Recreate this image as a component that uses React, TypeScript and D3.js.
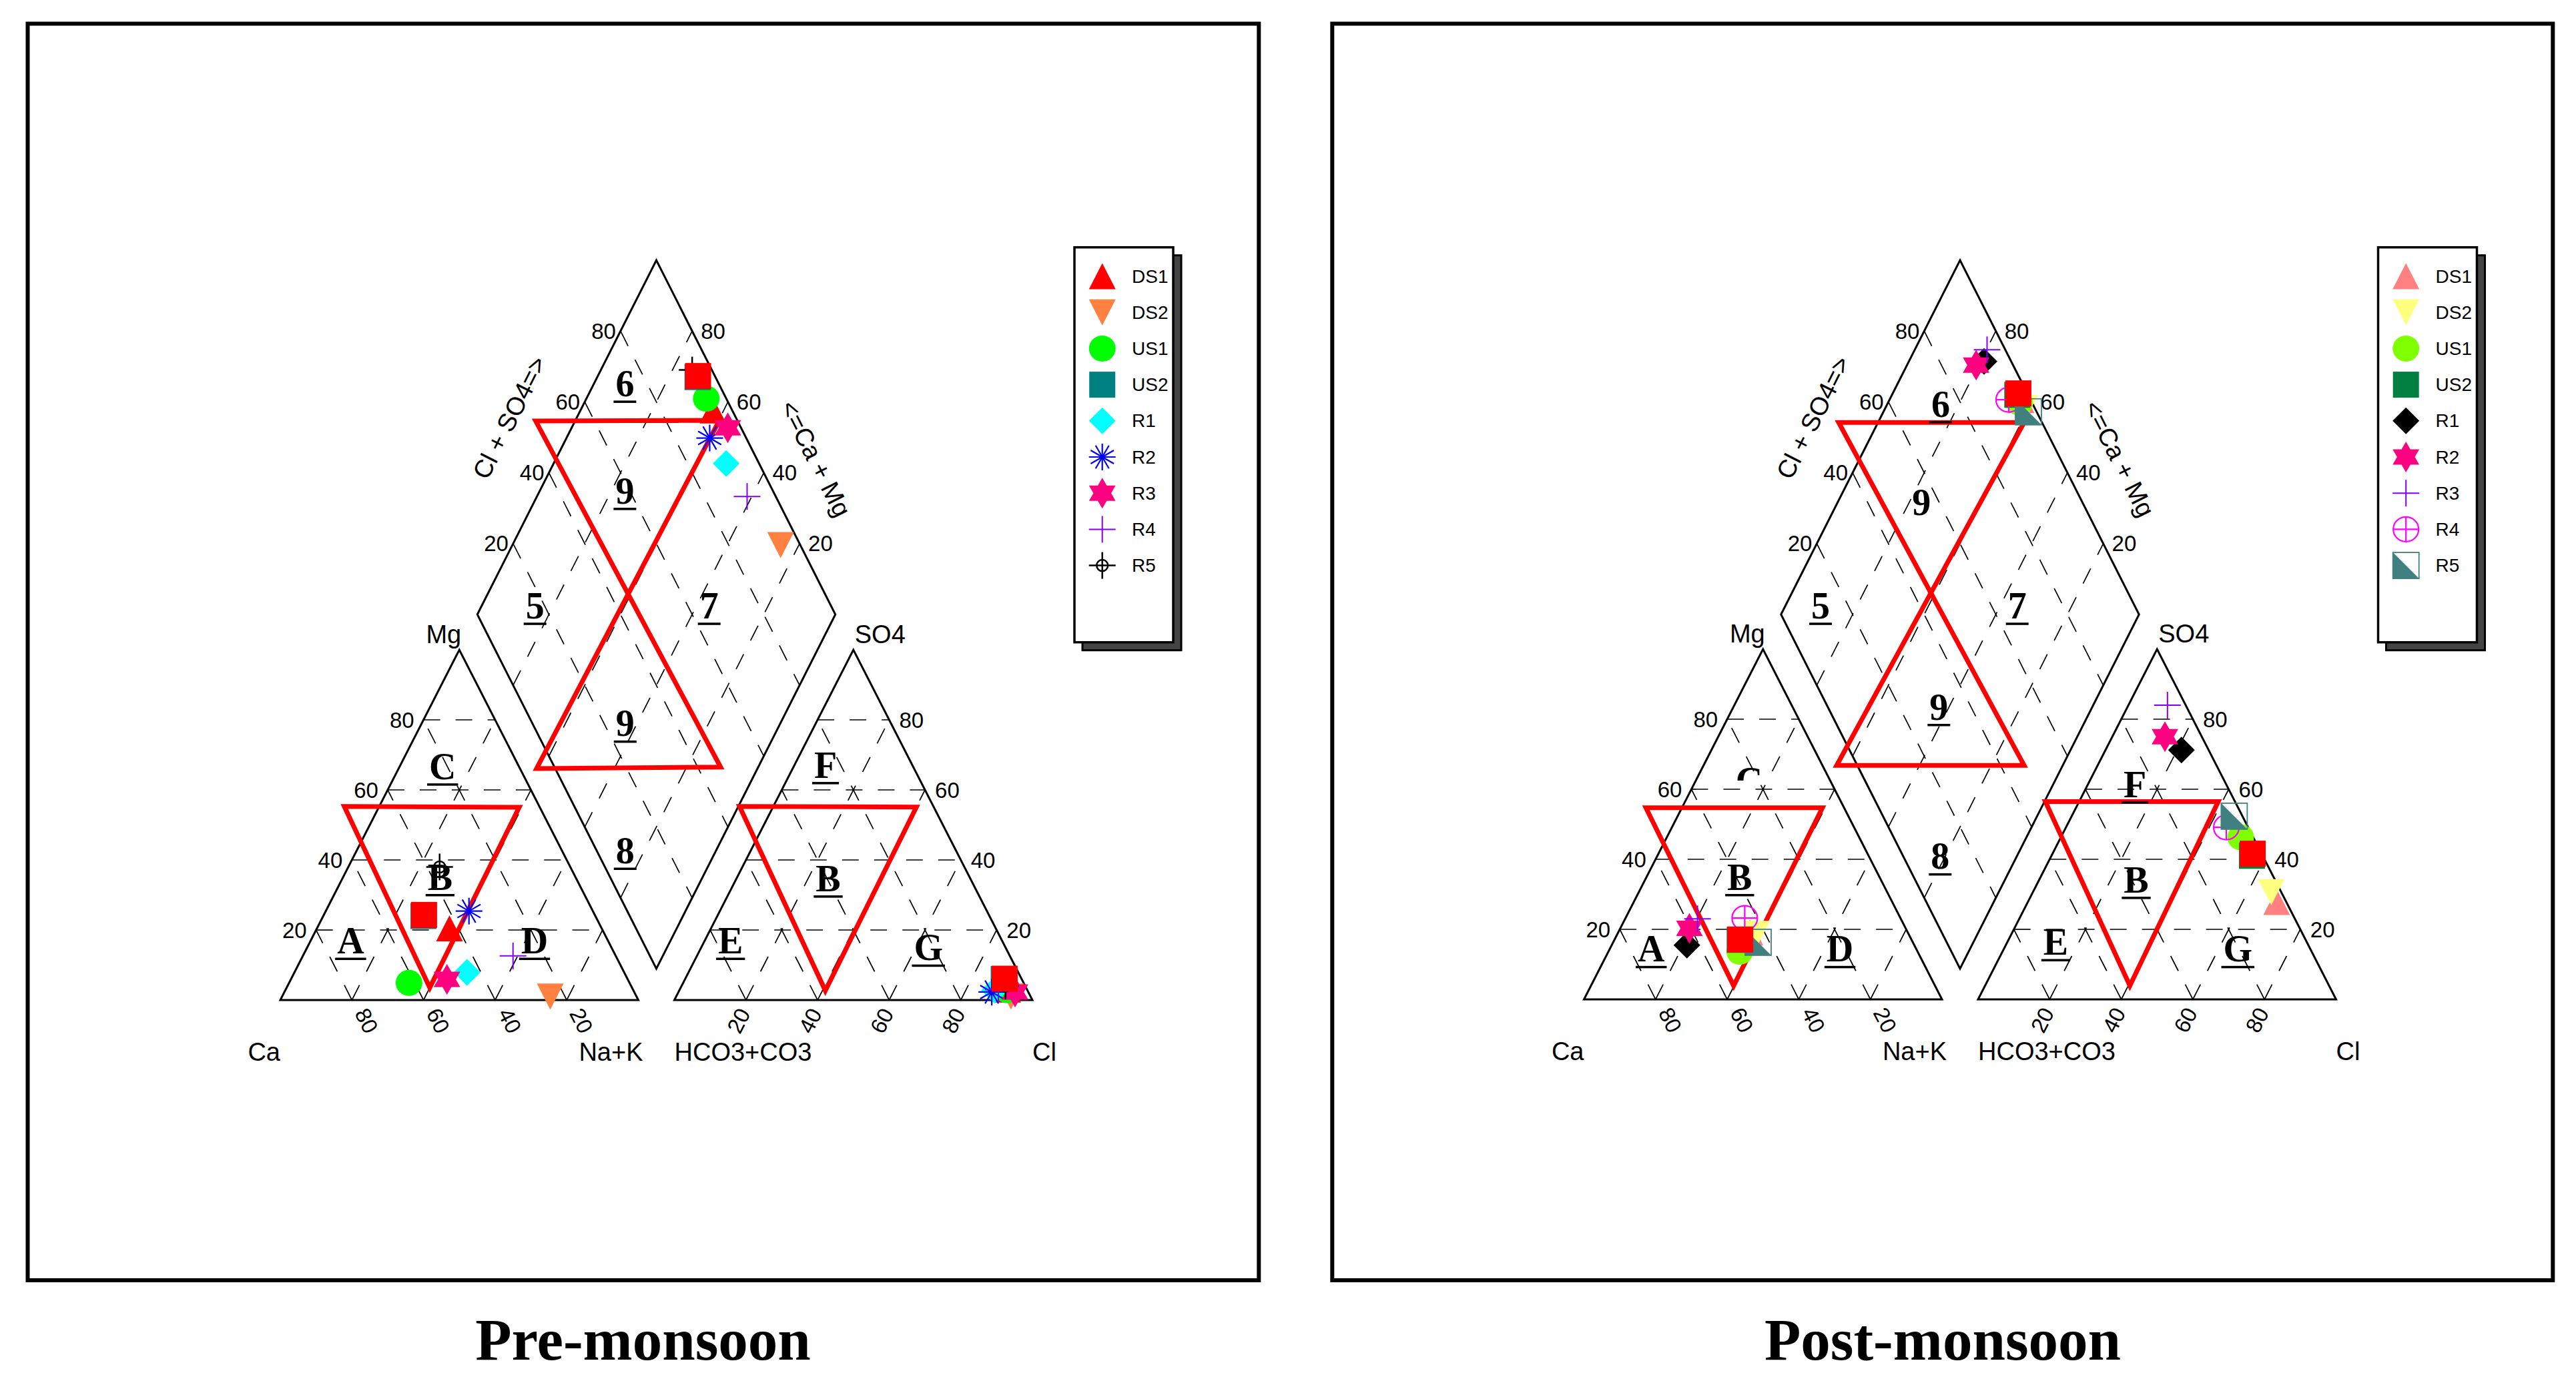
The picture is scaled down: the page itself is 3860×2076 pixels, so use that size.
import React from 'react';
import * as d3 from 'd3';

// sample names (last one is the red square that has no legend entry)
const SAMPLES = ['DS1', 'DS2', 'US1', 'US2', 'R1', 'R2', 'R3', 'R4', 'R5', ''];

// Pre-monsoon, % meq/L
const preCa = [42.5, 24.1, 61.6, 48.0, 43.9, 34.6, 50.5, 28.7, 36.5, 47.7];
const preMg = [20.5, 1.0, 4.9, 24.0, 7.9, 25.4, 5.9, 12.6, 38.0, 24.3];
const preNaK = [37.0, 74.9, 33.5, 28.0, 48.2, 40.0, 43.6, 58.7, 25.5, 28.0];
const preHCO3 = [5.4, 5.5, 5.6, 5.0, 9.2, 10.2, 3.7, 8.0, 5.5, 4.7];
const preSO4 = [3.0, 1.0, 2.8, 6.0, 2.8, 2.3, 2.3, 3.0, 4.0, 6.1];
const preCl = [91.6, 93.5, 91.6, 89.0, 88.0, 87.5, 94.0, 89.0, 90.5, 89.2];

// Post-monsoon, % meq/L
const postCa = [44.1, 42.4, 49.7, 48.0, 63.5, 60.4, 56.8, 43.5, 43.2, 47.8];
const postMg = [19.1, 18.7, 13.6, 17.0, 15.5, 20.3, 23.0, 23.2, 16.3, 17.1];
const postNaK = [36.8, 38.9, 36.7, 35.0, 21.0, 19.3, 20.2, 33.3, 40.5, 35.1];
const postHCO3 = [2.7, 2.8, 3.5, 3.0, 7.6, 10.3, 5.1, 6.1, 2.3, 2.5];
const postSO4 = [27.8, 30.6, 46.3, 41.0, 71.2, 75.0, 84.0, 49.1, 52.3, 41.6];
const postCl = [69.5, 66.6, 50.2, 56.0, 21.2, 14.7, 10.9, 44.8, 45.4, 55.9];

const TICKS = [20, 40, 60, 80];

const preShapes = ['triUp', 'triDown', 'circle', 'square', 'diamond', 'asterisk', 'star', 'plus', 'circlePlus', 'square'];
const preColors = ['#ff0000', '#ff8040', '#00ff00', '#008080', '#00ffff', '#0000ff', '#ff0080', '#8000ff', '#000000', '#ff0000'];
const postShapes = ['triUp', 'triDown', 'circle', 'square', 'diamond', 'star', 'plus', 'ringPlus', 'halfSquare', 'square'];
const postColors = ['#ff8080', '#ffff80', '#80ff00', '#008040', '#000000', '#ff0080', '#8000ff', '#ff00ff', '#408080', '#ff0000'];

// layout
const W = 536.5;
const H = 525;
const GAP = 54;
const HALF_H = 531;
const MID_Y = 921;
const SANS = 'Liberation Sans, Arial, sans-serif';
const SERIF = 'Liberation Serif, Times New Roman, serif';
const TIMES_W: Record<string, number> = { A: 0.722, B: 0.667, C: 0.722, D: 0.722, E: 0.667, F: 0.611, G: 0.778 };

const preLayout = {
  x0: 420, base: 1499, frameX: 41.5, frameW: 1844.8, titleX: 963.5, title: 'Pre-monsoon',
  catRed: [[0.1787, 0.5528], [0.6673, 0.5503], [0.4175, 0.0354]],
  aniRed: [[0.182, 0.553], [0.676, 0.551], [0.4216, 0.027]],
  hourglass: [[-0.674, -0.546], [0.352, -0.548], [-0.669, 0.435], [0.359, 0.431]],
  labels: [
    ['A', 105.4, -70, true], ['B', 239.4, -165.5, true], ['C', 243.2, -331.3, true], ['D', 381, -70, true],
    ['E', 674.7, -70, true], ['F', 817, -333.4, true], ['B', 821, -163.4, true], ['G', 971.2, -59.8, true],
    ['6', 516.4, -905.1, true], ['9', 516.4, -744.4, true], ['5', 381.7, -572.2, true], ['7', 642.7, -572.2, true],
    ['9', 516.8, -395.6, true], ['8', 516.8, -205, true],
  ] as [string, number, number, boolean][],
  clipC: false,
};

const postLayout = {
  x0: 2373.5, base: 1498, frameX: 1996.3, frameW: 1829, titleX: 2911, title: 'Post-monsoon',
  catRed: [[0.173, 0.547], [0.666, 0.547], [0.418, 0.039]],
  aniRed: [[0.188, 0.565], [0.671, 0.565], [0.424, 0.039]],
  hourglass: [[-0.678, -0.542], [0.358, -0.542], [-0.689, 0.426], [0.358, 0.426]],
  labels: [
    ['A', 100.8, -56.7, true], ['B', 233.3, -164.5, true], ['C', 247.5, -309, false], ['D', 383.5, -56.7, true],
    ['E', 707, -67, true], ['F', 825.5, -303.4, true], ['B', 827.5, -160.4, true], ['G', 979.8, -56.7, true],
    ['6', 534.4, -873.5, true], ['9', 505.7, -726.2, false], ['5', 354.5, -571.2, true], ['7', 649.2, -571.2, true],
    ['9', 531.8, -419.5, true], ['8', 533.8, -195.6, true],
  ] as [string, number, number, boolean][],
  clipC: true,
};

function Marker({ shape, color, x, y }: { shape: string; color: string; x: number; y: number }) {
  const t = `translate(${x},${y})`;
  switch (shape) {
    case 'triUp':
      return <polygon transform={t} points="0,-19.5 20,19.5 -20,19.5" fill={color} />;
    case 'triDown':
      return <polygon transform={t} points="-20,-19.5 20,-19.5 0,19.5" fill={color} />;
    case 'circle':
      return <ellipse cx={x} cy={y} rx={20} ry={19.5} fill={color} />;
    case 'square':
      return <rect x={x - 19.5} y={y - 19.5} width={39} height={39} fill={color} />;
    case 'diamond':
      return <polygon transform={t} points="0,-20 20,0 0,20 -20,0" fill={color} />;
    case 'asterisk':
      return (
        <g transform={t} stroke={color} strokeWidth={2.2}>
          {[0, 30, 60, 90, 120, 150].map(a => {
            const r = (a * Math.PI) / 180;
            return <line key={a} x1={-20 * Math.cos(r)} y1={-20 * Math.sin(r)} x2={20 * Math.cos(r)} y2={20 * Math.sin(r)} />;
          })}
        </g>
      );
    case 'star': {
      const pts = d3.range(12).map(i => {
        const r = i % 2 === 0 ? 23 : 13.3;
        const a = ((-90 + i * 30) * Math.PI) / 180;
        return `${r * Math.cos(a)},${r * Math.sin(a)}`;
      });
      return <polygon transform={t} points={pts.join(' ')} fill={color} />;
    }
    case 'plus':
      return (
        <g transform={t} stroke={color} strokeWidth={2}>
          <line x1={-20} y1={0} x2={20} y2={0} />
          <line x1={0} y1={-20} x2={0} y2={20} />
        </g>
      );
    case 'circlePlus':
      return (
        <g transform={t} stroke={color} strokeWidth={2.5} fill="none">
          <circle r={8.5} />
          <line x1={-20} y1={0} x2={20} y2={0} />
          <line x1={0} y1={-20} x2={0} y2={20} />
        </g>
      );
    case 'ringPlus':
      return (
        <g transform={t} stroke={color} strokeWidth={2.2} fill="none">
          <ellipse rx={19} ry={18.5} />
          <line x1={-19} y1={0} x2={19} y2={0} />
          <line x1={0} y1={-18.5} x2={0} y2={18.5} />
        </g>
      );
    case 'halfSquare':
      return (
        <g transform={t}>
          <polygon points="-19.5,-19.5 19.5,19.5 -19.5,19.5" fill={color} />
          <rect x={-19.5} y={-19.5} width={39} height={39} fill="none" stroke={color} strokeWidth={1.8} />
        </g>
      );
    default:
      return null;
  }
}

function Panel({ layout, ca, mg, nak, hco3, so4, cl, shapes, colors, id }: any) {
  const { x0, base } = layout;
  const xa0 = x0 + W + GAP;
  const cx = x0 + W + GAP / 2;

  const catX = d3.scaleLinear().domain([0, 100]).range([x0, x0 + W]);
  const aniX = d3.scaleLinear().domain([0, 100]).range([xa0, xa0 + W]);
  const triY = d3.scaleLinear().domain([0, 100]).range([base, base - H]);
  const dmX = d3.scaleLinear().domain([0, 200]).range([cx - W / 2, cx + W / 2]);
  const dmY = d3.scaleLinear().domain([-100, 100]).range([MID_Y - HALF_H, MID_Y + HALF_H]);

  // ternary -> screen
  const cat = (m: number, n: number): [number, number] => [catX(n + m / 2), triY(m)];
  const ani = (s: number, c: number): [number, number] => [aniX(c + s / 2), triY(s)];
  const dm = (a: number, c: number): [number, number] => [dmX(a + c), dmY(c - a)];

  const line = d3.line();

  const grid: [number, number][][] = [];
  TICKS.forEach(f => {
    // cations: Mg, Ca, Na+K iso-lines
    grid.push([cat(f, 0), cat(f, 100 - f)]);
    grid.push([cat(0, 100 - f), cat(100 - f, 0)]);
    grid.push([cat(0, f), cat(100 - f, f)]);
    // anions: SO4, HCO3, Cl iso-lines
    grid.push([ani(f, 0), ani(f, 100 - f)]);
    grid.push([ani(0, 100 - f), ani(100 - f, 0)]);
    grid.push([ani(0, f), ani(100 - f, f)]);
    // diamond
    grid.push([dm(0, f), dm(100, f)]);
    grid.push([dm(f, 0), dm(f, 100)]);
  });

  const catTri = [cat(0, 0), cat(0, 100), cat(100, 0)];
  const aniTri = [ani(0, 0), ani(0, 100), ani(100, 0)];
  const diamond = [dm(0, 0), dm(100, 0), dm(100, 100), dm(0, 100)];

  const redCat = layout.catRed.map(([fx, fy]: number[]) => [catX(fx * 100), triY(fy * 100)]);
  const redAni = layout.aniRed.map(([fx, fy]: number[]) => [aniX(fx * 100), triY(fy * 100)]);
  const hg = layout.hourglass.map(([fx, fy]: number[]) => [cx + fx * (W / 2), MID_Y + fy * HALF_H]);

  const apexC = cat(100, 0);
  const apexA = ani(100, 0);
  const legendX = x0 + 1190;
  const legendY = 370.7;

  return (
    <g>
      <rect x={layout.frameX} y={35.5} width={layout.frameW} height={1883.5} fill="none" stroke="#000" strokeWidth={6} />

      <g stroke="#000" strokeWidth={1.7} strokeDasharray="25 23" fill="none">
        {grid.map((g, i) => <path key={i} d={line(g) || ''} />)}
      </g>

      <g stroke="#000" strokeWidth={3} fill="none">
        <path d={line(catTri as any) + 'Z'} />
        <path d={line(aniTri as any) + 'Z'} />
        <path d={line(diamond as any) + 'Z'} />
      </g>

      <g stroke="#ff0000" strokeWidth={7} fill="none" strokeLinejoin="miter">
        <path d={line(redCat) + 'Z'} />
        <path d={line(redAni) + 'Z'} />
        <path d={line([hg[0], hg[1], hg[2], hg[3]] as any) + 'Z'} />
      </g>

      {layout.clipC && (
        <clipPath id={`clipC-${id}`}>
          <rect x={x0 + 200} y={base - 309 - 46} width={100} height={27} />
        </clipPath>
      )}
      <g fontFamily={SERIF} fontWeight="bold" fontSize={56}>
        {layout.labels.map(([t, dx, dy, ul]: [string, number, number, boolean], i: number) => {
          const x = x0 + dx;
          const y = base + dy;
          const w = (TIMES_W[t] || 0.5) * 56;
          const clipped = layout.clipC && t === 'C';
          return (
            <g key={i} clipPath={clipped ? `url(#clipC-${id})` : undefined}>
              <text x={x} y={y} textAnchor="middle">{t}</text>
              {ul && <rect x={x - w / 2 - 3} y={y + 6.5} width={w + 6} height={3.5} fill="#000" />}
            </g>
          );
        })}
      </g>

      <g fontFamily={SANS} fontSize={33} fill="#000">
        {TICKS.map(f => {
          const [lx, ly] = cat(f, 0);
          const [bx] = cat(0, 100 - f);
          const [rx, ry] = ani(f, 100 - f);
          const [ax] = ani(0, f);
          const [ulx, uly] = dm(f, 0);
          const [urx, ury] = dm(100, 100 - f);
          return (
            <g key={f}>
              <text x={lx - 14} y={ly} textAnchor="end" dominantBaseline="central">{f}</text>
              <text transform={`translate(${bx + 22},${base + 31}) rotate(63)`} textAnchor="middle" dominantBaseline="central">{f}</text>
              <text x={rx + 15} y={ry} dominantBaseline="central">{f}</text>
              <text transform={`translate(${ax - 11},${base + 31}) rotate(-63)`} textAnchor="middle" dominantBaseline="central">{f}</text>
              <text x={ulx - 7} y={uly} textAnchor="end" dominantBaseline="central">{f}</text>
              <text x={urx + 13} y={ury} dominantBaseline="central">{f}</text>
            </g>
          );
        })}
      </g>

      <g fontFamily={SANS} fontSize={38} fill="#000">
        <text x={x0} y={base + 91} textAnchor="end">Ca</text>
        <text x={x0 + W + 7} y={base + 91} textAnchor="end">Na+K</text>
        <text x={xa0} y={base + 91}>HCO3+CO3</text>
        <text x={xa0 + W} y={base + 91}>Cl</text>
        <text x={apexC[0] + 3} y={apexC[1] - 10} textAnchor="end">Mg</text>
        <text x={apexA[0] + 2} y={apexA[1] - 10}>SO4</text>
        <text transform={`translate(${cx - 219.5},${MID_Y - 295}) rotate(-63.2)`} textAnchor="middle" dominantBaseline="central">Cl + SO4=&gt;</text>
        <text transform={`translate(${cx + 238.4},${MID_Y - 233.4}) rotate(63.2)`} textAnchor="middle" dominantBaseline="central">&lt;=Ca + Mg</text>
      </g>

      {SAMPLES.map((s, i) => {
        const [px, py] = cat(mg[i], nak[i]);
        return <Marker key={`c${i}`} shape={shapes[i]} color={colors[i]} x={px} y={py} />;
      })}
      {SAMPLES.map((s, i) => {
        const [px, py] = ani(so4[i], cl[i]);
        return <Marker key={`a${i}`} shape={shapes[i]} color={colors[i]} x={px} y={py} />;
      })}
      {SAMPLES.map((s, i) => {
        const [px, py] = dm(so4[i] + cl[i], nak[i]);
        return <Marker key={`d${i}`} shape={shapes[i]} color={colors[i]} x={px} y={py} />;
      })}

      <g>
        <rect x={legendX + 12} y={legendY + 12} width={148} height={592} fill="#444" stroke="#000" strokeWidth={3} />
        <rect x={legendX} y={legendY} width={148} height={592} fill="#fff" stroke="#000" strokeWidth={3.5} />
        {SAMPLES.filter(s => s !== '').map((s, i) => {
          const y = legendY + 43.3 + i * 54.2;
          return (
            <g key={s}>
              <Marker shape={shapes[i]} color={colors[i]} x={legendX + 41.7} y={y} />
              <text x={legendX + 86} y={y} fontFamily={SANS} fontSize={28} dominantBaseline="central">{s}</text>
            </g>
          );
        })}
      </g>

      <text x={layout.titleX} y={2038} textAnchor="middle" fontFamily={SERIF} fontWeight="bold" fontSize={89}>{layout.title}</text>
    </g>
  );
}

export default function App() {
  return (
    <svg width={3860} height={2076} style={{ position: 'absolute', left: 0, top: 0, display: 'block', background: '#fff' }}>
      <rect x={0} y={0} width={3860} height={2076} fill="#fff" />
      <Panel id="pre" layout={preLayout} ca={preCa} mg={preMg} nak={preNaK} hco3={preHCO3} so4={preSO4} cl={preCl} shapes={preShapes} colors={preColors} />
      <Panel id="post" layout={postLayout} ca={postCa} mg={postMg} nak={postNaK} hco3={postHCO3} so4={postSO4} cl={postCl} shapes={postShapes} colors={postColors} />
    </svg>
  );
}
